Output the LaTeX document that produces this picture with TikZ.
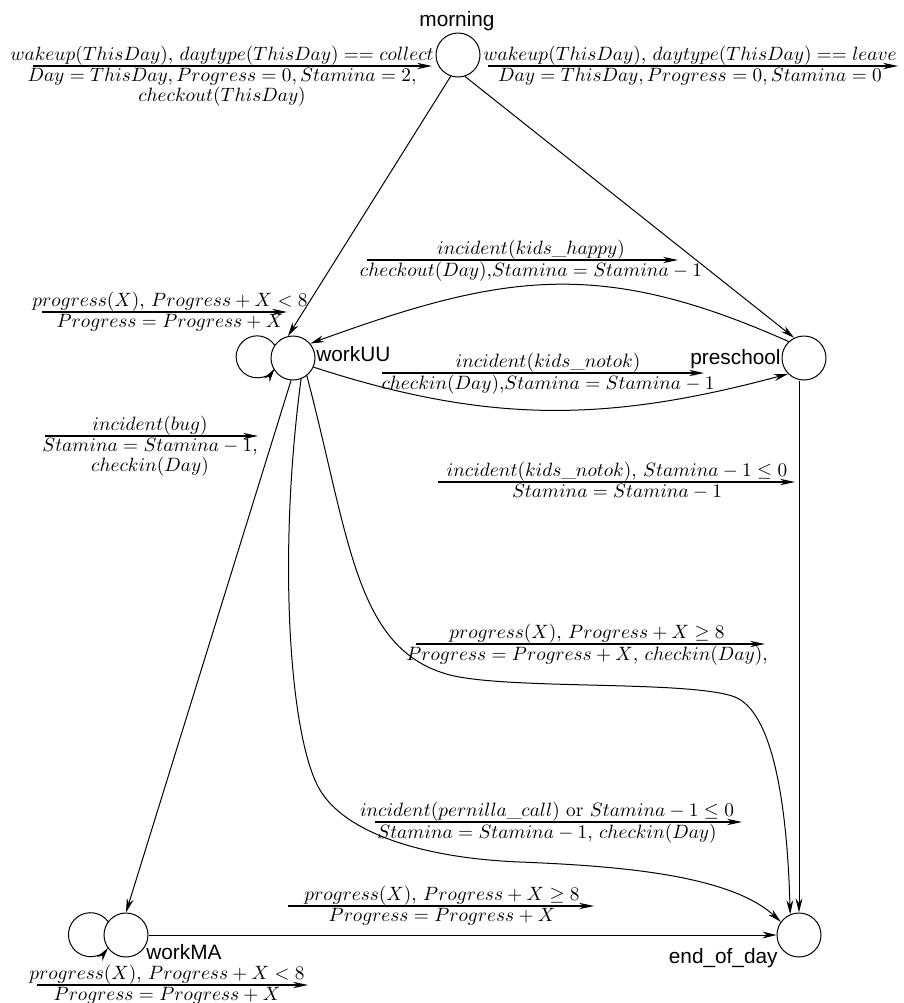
\documentclass[tikz,border=0pt]{standalone}
\usepackage{fontspec}
\newfontfamily\sansf{Liberation Sans}
\usetikzlibrary{arrows.meta,calc}
\newcommand\glabel[7]{%
  \coordinate (#1l) at (#3,-#2);
  \coordinate (#1r) at (#4,-#2);
  \draw[labarrow] (#1l) -- (#1r);
  \node[guard,anchor=south,inner sep=0.4pt] (#1g) at (#5,-#2) {#6};
  \node[guard,anchor=north,inner sep=1pt] (#1a) at (#5,-#2) {#7};}
\begin{document}
\begin{tikzpicture}[x=0.5pt,y=0.5pt,
  state/.style={circle,draw,line width=0.5pt,minimum size=22pt,inner sep=0pt},
  conn/.style={line width=0.5pt,-{Stealth[length=7pt,width=3.4pt,inset=2.2pt]}},
  labarrow/.style={line width=0.6pt,-{Stealth[length=7.5pt,width=3.2pt,inset=2.4pt]}},
  guard/.style={font=\fontsize{10}{10.2}\selectfont,align=center,scale=0.965,transform shape},
  sname/.style={font=\sansf\fontsize{10.4}{12}\selectfont,inner sep=0pt}]
\fill[white] (0,0) rectangle (904,-1003);
\useasboundingbox (0,0) rectangle (904,-1003);

% states
\node[state] (morning) at (458,-55) {};
\node[state] (workUU) at (293,-358) {};
\node[state] (preschool) at (804,-358) {};
\node[state] (workMA) at (126,-935) {};
\node[state] (end) at (799,-935) {};

% state names
\node[sname,anchor=base] (morningL) at (457,-26) {morning};
\node[sname,anchor=base west] (workUUL) at (316,-361) {workUU};
\node[sname,anchor=base east] (preschoolL) at (781,-364) {preschool};
\node[sname,anchor=base west] (workMAL) at (146,-959) {workMA};
\node[sname,anchor=base east] (endL) at (778,-963) {end\_of\_day};

% connectors
\draw[conn] (morning.251) -- (workUU.103);
\draw[conn] (morning.288) -- (preschool.116);
\draw[conn] (preschool.133) to[out=156,in=20,looseness=1.1] (workUU.40);
\draw[conn] (workUU.336) to[out=-18,in=195] (preschool.225);
\draw[conn] (workUU.145) arc[start angle=34,end angle=326,radius=21];
\draw[conn] (workUU.265) -- (workMA.north);
\draw[conn] (preschool.south -| end.north) -- (end.north);
\draw[conn] (workUU.308) .. controls (350,-540) and (355,-650) .. (450,-675)
   .. controls (510,-690) and (690,-680) .. (735,-697)
   .. controls (772,-712) and (787,-800) .. (end.113);
\draw[conn] (workUU.291) .. controls (277,-560) and (290,-740) .. (320,-790)
   .. controls (345,-832) and (420,-858) .. (520,-862)
   .. controls (620,-866) and (730,-875) .. (end.144);
\draw[conn] (workMA.east) -- (end.west);
\draw[conn] (workMA.143) arc[start angle=37,end angle=323,radius=22];

% labels
\glabel{L1}{66}{33}{432}{222}{$wakeup(ThisDay)$, $daytype(ThisDay) == collect$}{$Day = ThisDay, Progress = 0, Stamina = 2,$\\$checkout(ThisDay)$}
\glabel{L2}{66}{488}{898}{690}{$wakeup(ThisDay)$, $daytype(ThisDay) == leave$}{$Day = ThisDay, Progress = 0, Stamina = 0$}
\glabel{L3}{260}{367}{678}{531}{$incident(kids\_happy)$}{$checkout(Day)$,$Stamina = Stamina - 1$}
\glabel{L4}{373}{382}{704}{548}{$incident(kids\_notok)$}{$checkin(Day)$,$Stamina = Stamina - 1$}
\glabel{L5}{312}{42}{287}{170}{$progress(X)$, $Progress + X < 8$}{$Progress = Progress + X$}
\glabel{L6}{436}{45}{258}{150}{$incident(bug)$}{$Stamina = Stamina - 1$,\\$checkin(Day)$}
\glabel{L7}{482}{438}{795}{617}{$incident(kids\_notok)$, $Stamina - 1 \leq 0$}{$Stamina = Stamina - 1$}
\glabel{L8}{644}{416}{765}{587}{$progress(X)$, $Progress + X \geq 8$}{$Progress = Progress + X$, $checkin(Day)$,}
\glabel{L9}{822}{375}{742}{547}{$incident(pernilla\_call)$ or $Stamina - 1 \leq 0$}{$Stamina = Stamina - 1$, $checkin(Day)$}
\glabel{L10}{906}{288}{594}{442}{$progress(X)$, $Progress + X \geq 8$}{$Progress = Progress + X$}
\glabel{L11}{985}{37}{308}{167}{$progress(X)$, $Progress + X < 8$}{$Progress = Progress + X$}
\end{tikzpicture}
\end{document}
